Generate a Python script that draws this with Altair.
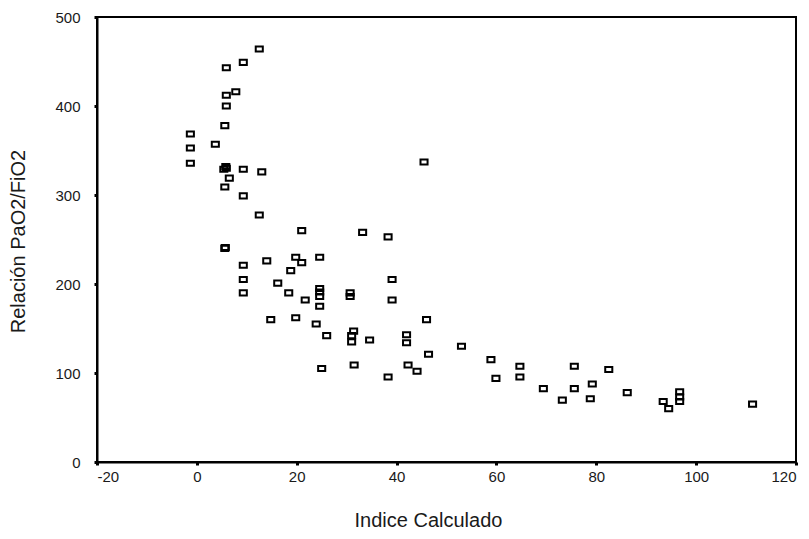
import altair as alt
import pandas as pd

# Data
indice = [
    -1.3, -1.3, -1.3, 3.7,
    5.9, 9.3, 12.5,
    7.8, 5.9, 5.9, 5.6,
    5.8, 5.4, 5.9,
    9.3, 13.0, 6.5, 5.6, 9.3, 12.5,
    5.7, 5.6,
    9.3, 9.3, 9.3,
    14.0, 21.0, 19.8, 21.0, 24.6,
    18.8, 16.2, 18.4, 21.7,
    24.6, 24.6, 24.6, 24.6,
    14.8, 19.8, 23.9, 26.0, 25.0,
    30.7, 30.7, 33.2, 38.3,
    39.1, 39.1, 45.5,
    31.4, 31.0, 31.0, 34.6, 31.5,
    42.0, 42.0, 42.3, 44.1, 38.3,
    46.0, 46.4, 53.0,
    58.9, 59.9, 64.7, 64.7,
    69.4, 73.2, 75.6, 75.6, 79.2, 78.8, 82.5, 86.2,
    93.4, 94.5, 96.7, 96.7, 96.7, 111.3,
]
relacion = [
    368.5, 352.8, 335.6, 357,
    443, 449, 464,
    416, 412, 400, 378,
    332, 329, 330,
    329, 326, 319, 309, 299, 277.5,
    241, 240,
    221, 205, 190,
    226, 260, 230, 224, 230,
    215, 201, 190, 182,
    195, 191, 186, 175,
    160, 162, 155, 142, 105,
    190, 186, 258, 253,
    205, 182, 337,
    147, 142, 135, 137, 109,
    143, 134, 109, 102, 95.5,
    160, 121, 130,
    115, 94, 107.5, 95.5,
    82.4, 69.5, 107.5, 82.4, 87.6, 71, 104, 78,
    68, 60, 79, 73, 68, 65,
]

x_ticks = [-20, 0, 20, 40, 60, 80, 100, 120]
y_ticks = [0, 100, 200, 300, 400, 500]

df = pd.DataFrame({"Indice Calculado": indice, "Relación PaO2/FiO2": relacion})

FONT = "Liberation Sans"
rect_shape = "M-1,-0.72L1,-0.72L1,0.72L-1,0.72Z"

chart = (
    alt.Chart(df)
    .mark_point(shape=rect_shape, size=50, filled=False, stroke="black",
                strokeWidth=2, opacity=1)
    .encode(
        x=alt.X(
            "Indice Calculado:Q",
            scale=alt.Scale(domain=[-20, 120], nice=False, zero=False),
            axis=alt.Axis(
                values=x_ticks, title="Indice Calculado", grid=False,
                tickSize=3, tickWidth=3, labelPadding=4,
                labelExpr="'' + datum.value",
                titleX=331, titleY=64, titleBaseline="alphabetic",
                titleAlign="center",
            ),
        ),
        y=alt.Y(
            "Relación PaO2/FiO2:Q",
            scale=alt.Scale(domain=[0, 500], nice=False, zero=False),
            axis=alt.Axis(
                values=y_ticks, title="Relación PaO2/FiO2", grid=False,
                tickSize=3, tickWidth=3, labelPadding=14,
                titleX=-73, titleY=224, titleAngle=270,
                titleBaseline="alphabetic", titleAlign="center",
            ),
        ),
    )
    .properties(
        width=699,
        height=445,
        autosize=alt.AutoSizeParams(type="none"),
        padding={"left": 89, "top": 9, "right": 5, "bottom": 69},
        background="white",
    )
    .configure_view(stroke="black", strokeWidth=2)
    .configure_axis(
        domainColor="black", domainWidth=2, tickColor="black",
        labelFont=FONT, labelFontSize=15, labelColor="#1a1a1a",
        titleFont=FONT, titleFontSize=20, titleFontWeight="normal",
        titleColor="#1a1a1a",
    )
)

chart.save("out.html", embed_options={"renderer": "svg", "actions": False})
